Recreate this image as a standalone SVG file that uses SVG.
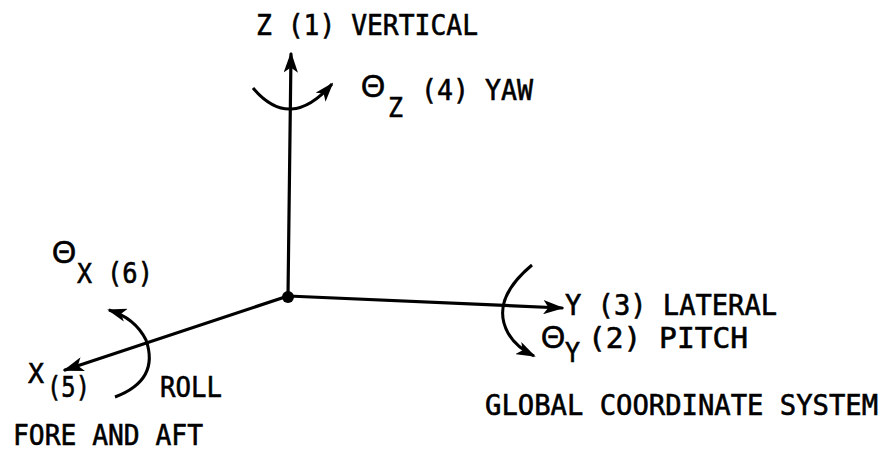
<svg xmlns="http://www.w3.org/2000/svg" width="896" height="453" viewBox="0 0 896 453">
<defs>
<marker id="ah" viewBox="0 0 10 10" refX="9" refY="5" markerWidth="6.5" markerHeight="4.5" orient="auto" markerUnits="strokeWidth" preserveAspectRatio="none">
<path d="M0,0 L10,5 L0,10 L2.5,5 Z" fill="#000"/>
</marker>
<style>
.t{font-family:"DejaVu Sans Mono","Liberation Mono",monospace;font-size:28px;fill:#000;stroke:#000;stroke-width:0.6}
.s{font-family:"DejaVu Sans Mono","Liberation Mono",monospace;font-size:27px;fill:#000;stroke:#000;stroke-width:0.6}
.th{font-family:"Liberation Sans","DejaVu Sans",sans-serif;font-size:31px;fill:#000;stroke:#000;stroke-width:0.6}
.ax{stroke:#000;stroke-width:3.2;fill:none;stroke-linecap:round}
.rot{stroke:#000;stroke-width:3;fill:none}
</style>
</defs>
<rect width="896" height="453" fill="#fff"/>
<g id="connectors">
<path class="ax" d="M288,296 L291,54" marker-end="url(#ah)"/>
<path class="ax" d="M288,296 L562,308" marker-end="url(#ah)"/>
<path class="ax" d="M288,296 L65,370" marker-end="url(#ah)"/>
<path class="rot" d="M253,88 Q290,132 332,84" marker-end="url(#ah)"/>
<path class="rot" d="M115,397 Q160,380 146,340 Q135,318 109,310" marker-end="url(#ah)"/>
<path class="rot" d="M532,265 Q490,300 508,333 Q516,347 534,356" marker-end="url(#ah)"/>
</g>
<g id="origin"><circle cx="288" cy="297" r="6" fill="#000"/></g>
<g id="z-axis-label"><text class="t" x="256" y="35" textLength="222" lengthAdjust="spacingAndGlyphs">Z (1) VERTICAL</text></g>
<g id="yaw-label"><text class="th" x="361" y="97">Θ</text><text class="s" x="388" y="117" textLength="15" lengthAdjust="spacingAndGlyphs">Z</text><text class="t" x="421" y="100" textLength="112" lengthAdjust="spacingAndGlyphs">(4) YAW</text></g>
<g id="roll-theta-label"><text class="th" x="52" y="263">Θ</text><text class="s" x="77" y="283" textLength="15" lengthAdjust="spacingAndGlyphs">X</text><text class="t" x="107" y="283" textLength="46" lengthAdjust="spacingAndGlyphs">(6)</text></g>
<g id="x-axis-label"><text class="s" x="28" y="383" textLength="16" lengthAdjust="spacingAndGlyphs">X</text><text class="t" x="47" y="397" textLength="43" lengthAdjust="spacingAndGlyphs">(5)</text><text class="t" x="160" y="397" textLength="62" lengthAdjust="spacingAndGlyphs">ROLL</text><text class="t" x="13" y="445" textLength="190" lengthAdjust="spacingAndGlyphs">FORE AND AFT</text></g>
<g id="y-axis-label"><text class="t" x="565" y="315" textLength="212" lengthAdjust="spacingAndGlyphs">Y (3) LATERAL</text></g>
<g id="pitch-label"><text class="th" x="541" y="348">Θ</text><text class="s" x="565" y="362" textLength="15" lengthAdjust="spacingAndGlyphs">Y</text><text class="t" x="588" y="348" textLength="160" lengthAdjust="spacingAndGlyphs">(2) PITCH</text></g>
<g id="title"><text class="t" x="485" y="415" textLength="393" lengthAdjust="spacingAndGlyphs">GLOBAL COORDINATE SYSTEM</text></g>
</svg>
